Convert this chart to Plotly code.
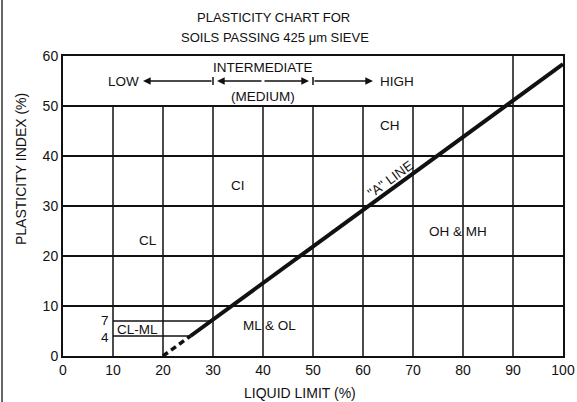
import plotly.graph_objects as go

# ---------------- data ----------------
x_ticks = [0, 10, 20, 30, 40, 50, 60, 70, 80, 90, 100]
y_ticks = [0, 10, 20, 30, 40, 50, 60]

# vertical grid lines (liquid limit) and the PI at which each one stops
grid_ll = [10, 20, 30, 40, 50, 60, 70, 80, 90]
grid_ll_top = [50, 50, 50, 50, 50, 50, 50, 50, 60]

# "A" line
a_dash_ll = [20, 25.5]
a_dash_pi = [0, 4]
a_solid_ll = [25.5, 100]
a_solid_pi = [4, 58.4]

# CL-ML band boundaries
clml_ll_7 = [10, 29.6]
clml_pi_7 = [7, 7]
clml_ll_4 = [10, 25.5]
clml_pi_4 = [4, 4]

# zone labels
zone_names = ["CH", "CI", "CL", "CL-ML", "ML & OL", "OH & MH", "INTERMEDIATE", "(MEDIUM)", "LOW", "HIGH", "7", "4"]
zone_ll = [65.3, 34.9, 16.9, 14.8, 41.3, 79.0, 40.0, 40.0, 12.0, 66.8, 8.4, 8.4]
zone_pi = [46.2, 34.2, 23.2, 5.3, 6.2, 24.9, 57.7, 51.9, 55.0, 55.0, 7.1, 3.8]

# plasticity range arrows (head LL, tail LL) at PI = 55
arrow_pi = 55
arrow_head_ll = [16.0, 30.8, 49.2, 62.0]
arrow_tail_ll = [30.0, 40.0, 40.0, 50.0]
range_ticks_ll = [30, 50]

aline_label = '"A" LINE'
aline_label_ll = 65.4
aline_label_pi = 35.4

FONT = "Liberation Sans, Arial, sans-serif"
INK = "#111111"

fig = go.Figure()
fig.add_trace(go.Scatter(x=a_dash_ll, y=a_dash_pi, mode="lines",
                         line=dict(color=INK, width=3.5, dash="6px,4px"),
                         hoverinfo="skip", showlegend=False))
fig.add_trace(go.Scatter(x=a_solid_ll, y=a_solid_pi, mode="lines",
                         line=dict(color=INK, width=4),
                         hoverinfo="skip", showlegend=False))
fig.add_trace(go.Scatter(x=clml_ll_7, y=clml_pi_7, mode="lines",
                         line=dict(color=INK, width=1.5), hoverinfo="skip", showlegend=False))
fig.add_trace(go.Scatter(x=clml_ll_4, y=clml_pi_4, mode="lines",
                         line=dict(color=INK, width=1.5), hoverinfo="skip", showlegend=False))

shapes = []
for gx, top in zip(grid_ll, grid_ll_top):
    shapes.append(dict(type="line", xref="x", yref="y", x0=gx, x1=gx, y0=0, y1=top,
                       line=dict(color=INK, width=1.5), layer="below"))
for tx in range_ticks_ll:
    shapes.append(dict(type="line", xref="x", yref="y", x0=tx, x1=tx,
                       y0=arrow_pi - 0.8, y1=arrow_pi + 0.8,
                       line=dict(color=INK, width=1.5)))
# outer page frame on the left
shapes.append(dict(type="line", xref="paper", yref="paper", x0=-0.122, x1=-0.122,
                   y0=-0.16, y1=1.19, line=dict(color="#333333", width=1.5)))

def ann(**kw):
    kw.setdefault("xanchor", "center")
    kw.setdefault("yanchor", "middle")
    return kw

annotations = []
for name, lx, py in zip(zone_names, zone_ll, zone_pi):
    annotations.append(ann(x=lx, y=py, xref="x", yref="y", text=name, showarrow=False,
                           font=dict(family=FONT, size=13.5, color=INK)))
for hx, tx in zip(arrow_head_ll, arrow_tail_ll):
    annotations.append(dict(x=hx, y=arrow_pi, ax=tx, ay=arrow_pi, xref="x", yref="y",
                            axref="x", ayref="y", text="", showarrow=True,
                            arrowhead=2, arrowsize=1.1, arrowwidth=1.4, arrowcolor=INK,
                            standoff=0, startstandoff=0))
annotations.append(ann(x=aline_label_ll, y=aline_label_pi, xref="x", yref="y",
                       text=aline_label, showarrow=False, textangle=-36,
                       font=dict(family=FONT, size=13.5, color=INK)))
# title
annotations.append(ann(x=(273 - 63) / 500, y=(356 - 17.5) / 300, xref="paper", yref="paper",
                       text="PLASTICITY CHART FOR", showarrow=False,
                       font=dict(family=FONT, size=13, color=INK)))
annotations.append(ann(x=(275 - 63) / 500, y=(356 - 37.5) / 300, xref="paper", yref="paper",
                       text="SOILS PASSING 425 μm SIEVE", showarrow=False,
                       font=dict(family=FONT, size=13, color=INK)))
# axis titles
annotations.append(ann(x=(300 - 63) / 500, y=(356 - 393) / 300, xref="paper", yref="paper",
                       text="LIQUID LIMIT (%)", showarrow=False,
                       font=dict(family=FONT, size=14, color=INK)))
annotations.append(ann(x=(21 - 63) / 500, y=(356 - 169) / 300, xref="paper", yref="paper",
                       text="PLASTICITY INDEX (%)", showarrow=False, textangle=-90,
                       font=dict(family=FONT, size=14, color=INK)))

fig.update_layout(
    width=577, height=402,
    margin=dict(l=63, r=14, t=56, b=46, autoexpand=False),
    paper_bgcolor="white", plot_bgcolor="white",
    showlegend=False,
    shapes=shapes, annotations=annotations,
    font=dict(family=FONT, color=INK),
)
fig.update_xaxes(range=[0, 100], tickvals=x_ticks, ticks="", showgrid=False, zeroline=False,
                 showline=True, mirror=True, linecolor=INK, linewidth=2, automargin=False,
                 tickfont=dict(family=FONT, size=14, color=INK))
fig.update_yaxes(range=[0, 60], tickvals=y_ticks, ticks="", showgrid=True, gridcolor=INK,
                 gridwidth=1.5, zeroline=False, automargin=False,
                 showline=True, mirror=True, linecolor=INK, linewidth=2,
                 tickfont=dict(family=FONT, size=14, color=INK))

fig.write_html(
    "out.html",
    config={"responsive": False, "displayModeBar": False},
    post_script="document.body.style.margin='0';document.documentElement.style.overflow='hidden';",
)
